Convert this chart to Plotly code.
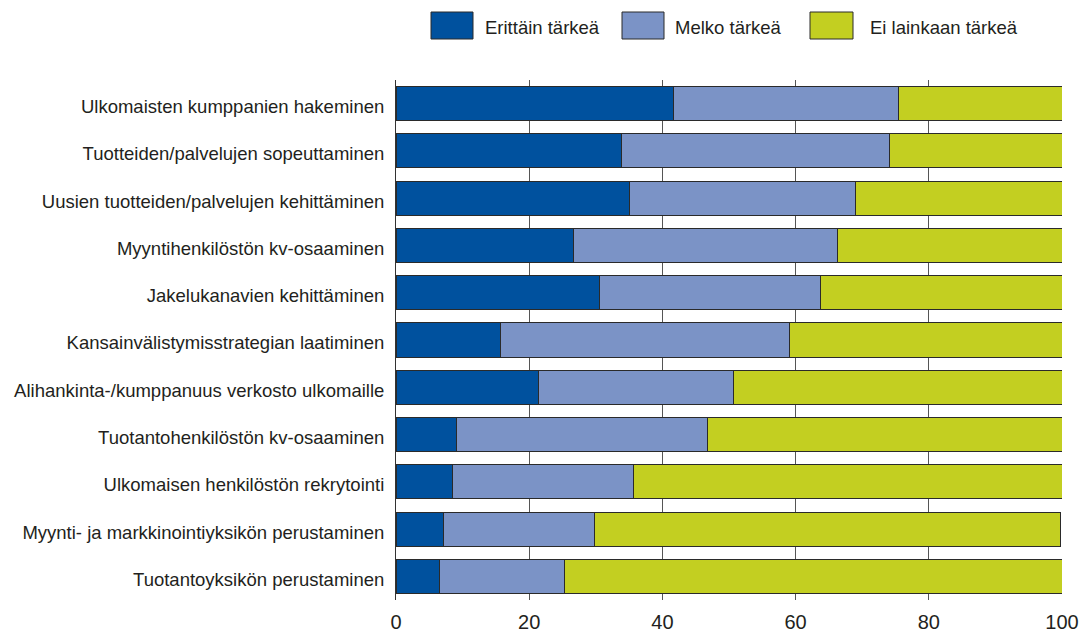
import plotly.graph_objects as go

categories = [
    "Ulkomaisten kumppanien hakeminen",
    "Tuotteiden/palvelujen sopeuttaminen",
    "Uusien tuotteiden/palvelujen kehittäminen",
    "Myyntihenkilöstön kv-osaaminen",
    "Jakelukanavien kehittäminen",
    "Kansainvälistymisstrategian laatiminen",
    "Alihankinta-/kumppanuus verkosto ulkomaille",
    "Tuotantohenkilöstön kv-osaaminen",
    "Ulkomaisen henkilöstön rekrytointi",
    "Myynti- ja markkinointiyksikön perustaminen",
    "Tuotantoyksikön perustaminen",
]
erittain = [41.7, 33.9, 35.1, 26.7, 30.6, 15.7, 21.4, 9.1, 8.5, 7.2, 6.5]
melko = [33.7, 40.2, 33.9, 39.6, 33.1, 43.4, 29.2, 37.7, 27.2, 22.6, 18.8]
ei = [24.6, 25.9, 31.0, 33.7, 36.3, 40.9, 49.4, 53.2, 64.3, 70.0, 74.7]
series_names = ["Erittäin tärkeä", "Melko tärkeä", "Ei lainkaan tärkeä"]
x_ticks = [0, 20, 40, 60, 80, 100]

colors = ["#00519E", "#7B93C6", "#C3CF21"]
FONT = "Liberation Sans, Arial, sans-serif"
TXT = "#231F20"
FS = 18.5

fig = go.Figure()
for name, vals, col in zip(series_names, [erittain, melko, ei], colors):
    fig.add_trace(go.Bar(
        y=categories, x=vals, name=name, orientation="h",
        marker=dict(color=col, line=dict(color="#2a2a2a", width=1)),
        width=0.72, showlegend=False,
    ))

W, H = 1082, 639
L, R, T, B = 396, 20, 80, 39
pw, ph = W - L - R, H - T - B

def px(x):
    return (x - L) / pw

def py(y):
    return (H - B - y) / ph

# legend drawn in paper coordinates
legend_items = [(431, 473, 485), (622, 664, 675), (810, 853, 870)]
for (x0, x1, tx), name, col in zip(legend_items, series_names, colors):
    fig.add_shape(type="rect", xref="paper", yref="paper",
                  x0=px(x0), x1=px(x1), y0=py(39), y1=py(12),
                  fillcolor=col, line=dict(color="#2a2a2a", width=1))
    fig.add_annotation(xref="paper", yref="paper", x=px(tx - 2), y=py(28),
                       text=name, showarrow=False, xanchor="left", yanchor="middle",
                       font=dict(family=FONT, size=FS, color=TXT))

fig.update_layout(
    width=W, height=H,
    margin=dict(l=L, r=R, t=T, b=B, autoexpand=False),
    barmode="stack",
    plot_bgcolor="white", paper_bgcolor="white",
    font=dict(family=FONT, size=FS, color=TXT),
)
fig.update_xaxes(
    range=[0, 100], tickvals=x_ticks, ticktext=[str(v) for v in x_ticks],
    showgrid=True, gridcolor="#555555", gridwidth=1, automargin=False,
    zeroline=False, showline=False, ticks="", ticklabelstandoff=8,
    tickfont=dict(family=FONT, size=20, color=TXT),
)
fig.update_yaxes(
    autorange="reversed", showgrid=False, zeroline=False, automargin=False,
    showline=True, linecolor="#333333", linewidth=1,
    ticks="", ticklabelstandoff=7, ticklabelshift=-3,
    tickfont=dict(family=FONT, size=FS, color=TXT),
)

fig.write_html("out.html")
